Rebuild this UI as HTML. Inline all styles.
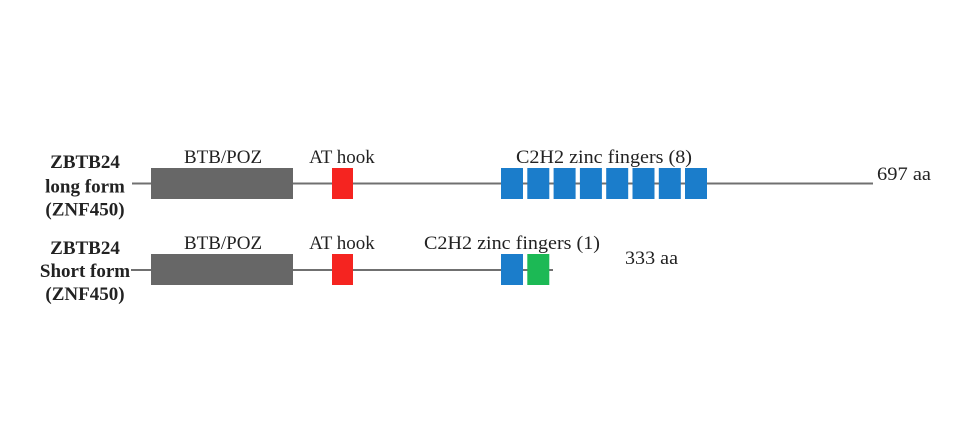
<!DOCTYPE html>
<html>
<head>
<meta charset="utf-8">
<style>
html,body{margin:0;padding:0;background:#fff;}
svg{display:block;}
text{font-family:"Liberation Serif",serif;fill:#222;}
.b{font-weight:bold;font-size:19px;}
.n{font-size:19px;}
</style>
</head>
<body>
<svg width="960" height="425" viewBox="0 0 960 425" xmlns="http://www.w3.org/2000/svg">
<rect width="960" height="425" fill="#fff"/>

<!-- Long form -->
<text class="b" x="85" y="168" text-anchor="middle">ZBTB24</text>
<text class="b" x="85" y="192.5" text-anchor="middle">long form</text>
<text class="b" x="85" y="215.5" text-anchor="middle">(ZNF450)</text>

<line x1="132" y1="183.5" x2="873" y2="183.5" stroke="#707070" stroke-width="2"/>
<rect x="151" y="168" width="142" height="31" fill="#676767"/>
<rect x="332" y="168" width="21" height="31" fill="#f52420"/>
<g fill="#1b7dcb">
<rect x="501" y="168" width="22" height="31"/>
<rect x="527.3" y="168" width="22" height="31"/>
<rect x="553.6" y="168" width="22" height="31"/>
<rect x="579.9" y="168" width="22" height="31"/>
<rect x="606.2" y="168" width="22" height="31"/>
<rect x="632.5" y="168" width="22" height="31"/>
<rect x="658.8" y="168" width="22" height="31"/>
<rect x="685" y="168" width="22" height="31"/>
</g>

<text class="n" x="223" y="163" text-anchor="middle">BTB/POZ</text>
<text class="n" x="342" y="163" text-anchor="middle">AT hook</text>
<text class="n" x="604" y="163" text-anchor="middle" textLength="176" lengthAdjust="spacingAndGlyphs">C2H2 zinc fingers (8)</text>
<text class="n" x="877" y="180" textLength="54" lengthAdjust="spacingAndGlyphs">697 aa</text>

<!-- Short form -->
<text class="b" x="85" y="254" text-anchor="middle">ZBTB24</text>
<text class="b" x="85" y="277" text-anchor="middle">Short form</text>
<text class="b" x="85" y="300" text-anchor="middle">(ZNF450)</text>

<line x1="131" y1="270" x2="553" y2="270" stroke="#707070" stroke-width="2"/>
<rect x="151" y="254" width="142" height="31" fill="#676767"/>
<rect x="332" y="254" width="21" height="31" fill="#f52420"/>
<rect x="501" y="254" width="22" height="31" fill="#1b7dcb"/>
<rect x="527.3" y="254" width="22" height="31" fill="#1cb955"/>

<text class="n" x="223" y="249" text-anchor="middle">BTB/POZ</text>
<text class="n" x="342" y="249" text-anchor="middle">AT hook</text>
<text class="n" x="512" y="249" text-anchor="middle" textLength="176" lengthAdjust="spacingAndGlyphs">C2H2 zinc fingers (1)</text>
<text class="n" x="625" y="264" textLength="53" lengthAdjust="spacingAndGlyphs">333 aa</text>
</svg>
</body>
</html>
